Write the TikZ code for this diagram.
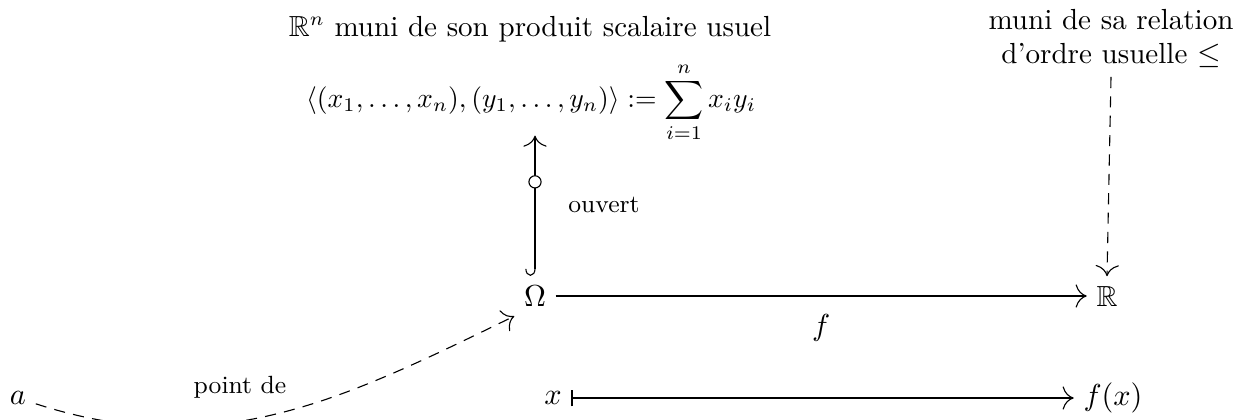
\documentclass[tikz,border=0pt]{standalone}
\usepackage{amsmath, amssymb}
\usetikzlibrary{arrows.meta, decorations.markings, positioning}
\tikzset{
  fleche/.style={-{To[length=4pt]}},
  pointille/.style={dash pattern=on 4pt off 3pt},
  rond/.style={
    decoration={markings, mark=at position #1 with {\draw[fill=white] (0,0) circle (2.2pt);}},
    postaction={decorate}
  },
  rond/.default=0.5
}

\begin{document}
\begin{tikzpicture}[x=0.0127cm, y=-0.0127cm, >=To, font=\fontsize{10.5}{12.3}\selectfont]
  \clip (0,0) rectangle (1248,419);
  \useasboundingbox (0,0) rectangle (1248,419);
  \node[inner sep=1pt] (Rn) at (530,29) {$\mathbb{R}^n$ muni de son produit scalaire usuel};
  \node[inner sep=1pt, font=\fontsize{9.8}{11}\selectfont] (ps) at (531,102) {$\displaystyle\langle (x_1,\dots,x_n),(y_1,\dots,y_n)\rangle := \sum_{i=1}^n x_i y_i$};
  \node[align=center] (ord) at (1111,38) {muni de sa relation\\ d'ordre usuelle $\leq$};
  %
  \node (Om) at (535,296) {$\Omega$};
  \node (R) at (1107,296) {$\mathbb{R}$};
  \node (x) at (553,398) {$x$};
  \node (fx) at (1113,398) {$f(x)$};
  \node (a) at (18,398) {$a$};
  %
  \draw[{Hooks[right,length=2.5pt,width=7pt]}-{To[length=4pt]}, rond=0.72, shorten >=-3.5pt] (Om.north) -- (Om.north |- ps.south);
  \node (ouv) at (604,205) {\small ouvert};
  \draw[fleche] (Om) -- (R) node[midway, below=3pt] {$f$};
  \draw[fleche, pointille] (ord.south) -- (R.north);
  \draw[{Bar[width=6pt]}-{To[length=4pt]}] (x) -- (fx);
  \draw[fleche, pointille] (a) to[out=-18, in=206] (Om.south west);
  \node (pt) at (240,387) {\small point de};
\end{tikzpicture}
\end{document}
